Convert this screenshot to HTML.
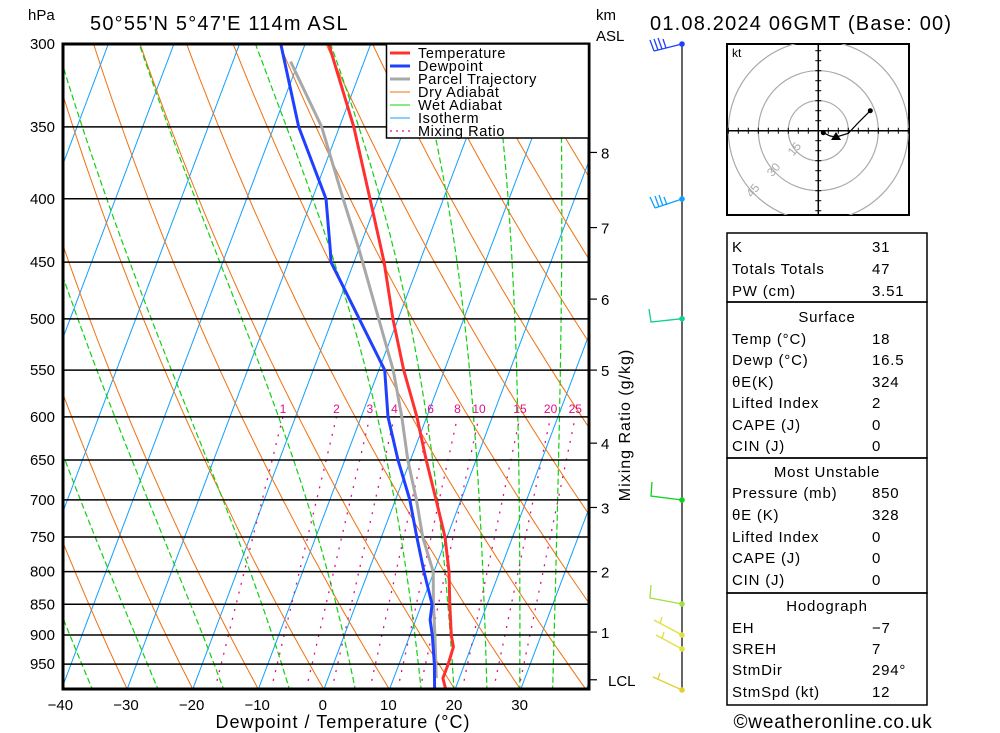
<!DOCTYPE html>
<html><head><meta charset="utf-8"><style>
html,body{margin:0;padding:0;background:#fff;}
svg{display:block;font-family:"Liberation Sans",sans-serif;}
</style></head><body>
<svg id="chart" width="1000" height="733" viewBox="0 0 1000 733" xmlns="http://www.w3.org/2000/svg">
<defs><clipPath id="plotclip"><rect x="63" y="44" width="526" height="645"/></clipPath>
<clipPath id="hodoclip"><rect x="727" y="44" width="182" height="171"/></clipPath></defs>
<g id="bg" clip-path="url(#plotclip)"></g>
<g id="isobars"></g>
<g id="series" clip-path="url(#plotclip)"></g>
<rect x="63" y="44" width="526" height="645" fill="none" stroke="#000" stroke-width="3"/>
<g id="labels"></g>
<text x="28" y="20" font-size="15">hPa</text>
<text x="90" y="30" font-size="20" letter-spacing="1.2">50°55'N  5°47'E  114m  ASL</text>
<text x="596" y="20" font-size="15">km</text>
<text x="596" y="41" font-size="15">ASL</text>
<text x="650" y="30" font-size="20" letter-spacing="1.2">01.08.2024  06GMT  (Base: 00)</text>
<text x="343" y="728" font-size="18" letter-spacing="1" text-anchor="middle">Dewpoint / Temperature (°C)</text>
<text transform="translate(630,425) rotate(-90)" font-size="16" letter-spacing="1" text-anchor="middle">Mixing Ratio (g/kg)</text>
<text x="833" y="728" font-size="19" letter-spacing="0.8" text-anchor="middle">©weatheronline.co.uk</text>
<g id="legend">
<rect x="386.5" y="44" width="202" height="94" fill="#fff" stroke="#000" stroke-width="1.5"/>
</g>
<g id="winds">
<line x1="682" y1="44" x2="682" y2="690" stroke="#000" stroke-width="1.2"/>
</g>
<g id="hodo">
<rect x="727" y="44" width="182" height="171" fill="#fff" stroke="#000" stroke-width="2"/>
<text x="732" y="57" font-size="12">kt</text>
</g>
<g id="table"></g>
</svg>
<script>
const NS="http://www.w3.org/2000/svg";
// ---- data ----
const tempP=[996,975,950,920,900,850,800,750,700,650,600,550,500,450,400,350,300];
const tempT=[18.6,17.5,17.5,17.3,16.3,14.3,12.3,9.7,6.2,2.4,-1.5,-6.2,-10.8,-15.4,-21.2,-27.8,-36.4];
const dewP=[996,950,900,875,850,800,750,700,650,600,550,450,440,400,350,300];
const dewT=[16.9,15.4,13.4,12.2,11.6,8.5,5.4,2.2,-1.9,-5.9,-9.1,-23.5,-24.3,-27.9,-36.2,-43.7];
const parcelP=[975,900,850,800,750,700,650,600,550,440,400,350,310];
const parcelT=[16.5,13.8,11.8,9.9,6.3,3.2,-0.4,-3.8,-7.8,-19.9,-25.3,-32.7,-41.2];
const isobarLevels=[300,350,400,450,500,550,600,650,700,750,800,850,900,950];
const tempTicks=[-40,-30,-20,-10,0,10,20,30];
const mixRatios=[1,2,3,4,6,8,10,15,20,25];
const mixLabels=["1","2","3","4","6","8","10","15","20","25"];
const kmLabels=["8","7","6","5","4","3","2","1","LCL"];
const kmPress=[367,422,482,550,630,710,800,895,978];
const hodoU=[2.5,5.8,8.8,15,20,26];
const hodoV=[-1,-2.6,-3.2,-1.3,4,10];
// ---- scales ----
const PB=996;
function yP(p){return 44+538*Math.log(p/300);}
function xT(T,p){return 324+6.56*T+0.3775*(689-yP(p));}
function mk(tag,attrs,parent){const e=document.createElementNS(NS,tag);for(const k in attrs)e.setAttribute(k,attrs[k]);parent.appendChild(e);return e;}
const bg=document.getElementById('bg'),series=document.getElementById('series'),labels=document.getElementById('labels');
function pathFrom(pts){return pts.map((q,i)=>(i?'L':'M')+q[0].toFixed(1)+','+q[1].toFixed(1)).join(' ');}
// isotherms
for(let T=-120;T<=40;T+=10){
  const e=mk('path',{d:pathFrom([[xT(T,PB),yP(PB)],[xT(T,290),yP(290)]]),stroke:'#10a0ff','stroke-width':1,fill:'none'},bg);
  
  
}
// dry adiabats
for(let th=183.5;th<=473.5;th+=10){
  const pts=[];for(let p=PB+5;p>=290;p-=10){pts.push([xT(th*Math.pow(p/1000,0.286)-273.15,p),yP(p)]);}
  const e=mk('path',{d:pathFrom(pts),stroke:'#f07010','stroke-width':1,fill:'none'},bg);
  
  
}
// wet adiabats
function es(Tc){return 6.112*Math.exp(17.67*Tc/(Tc+243.5));}
[-55,-45,-35,-25,-15,-5,5,15,20,25,30,35].forEach(T0=>{
  let T=T0+273.15,p=1000;const pts=[[xT(T0,p),yP(p)]];
  while(p>290){const Tc=T-273.15;const e=es(Tc);const rs=0.622*e/(p-e);
    const dTdp=(287*T+2.5e6*rs)/(p*(1004+2.5e6*2.5e6*rs*0.622/(287*T*T)));
    T+=dTdp*(-5);p-=5;pts.push([xT(T-273.15,p),yP(p)]);}
  const el=mk('path',{d:pathFrom(pts),stroke:'#10d010','stroke-width':1.2,fill:'none','stroke-dasharray':'6,3'},bg);
  
  
});
// mixing ratio
function tdFromW(w,p){const e=w*p/(622+w);const l=Math.log(e/6.112);return 243.5*l/(17.67-l);}
mixRatios.forEach((w,i)=>{
  const off=7+0.45*w;
  const el=mk('path',{d:pathFrom([[xT(tdFromW(w,PB),PB)+off*0.5,yP(PB)],[xT(tdFromW(w,600),600)+off,yP(600)]]),stroke:'#e0108a','stroke-width':1.3,fill:'none','stroke-dasharray':'2,7'},bg);
  
  
  const t=mk('text',{x:xT(tdFromW(w,600),600)+off,y:413,'font-size':12,fill:'#e0108a','text-anchor':'middle'},labels);
  t.textContent=mixLabels[i];
  
  
});
// isobars
const iso=document.getElementById('isobars');
isobarLevels.forEach(p=>{
  const l=mk('line',{x1:63,x2:589,y1:yP(p),y2:yP(p),stroke:'#000','stroke-width':1.5},iso);
  
  
  const t=mk('text',{x:55,y:yP(p)+5,'font-size':15,'text-anchor':'end'},labels);
  t.textContent=p;
  
  
});
tempTicks.forEach(T=>{
  const t=mk('text',{x:xT(T,PB)-1,y:710,'font-size':15,'text-anchor':'middle'},labels);
  t.textContent=(T<0?'\u2212':'')+Math.abs(T);
  
  
});
kmLabels.forEach((s,i)=>{
  const y=yP(kmPress[i]);
  const l=mk('line',{x1:589,x2:597,y1:y,y2:y,stroke:'#000','stroke-width':1.2},labels);
  
  
  const t=mk('text',{x:s==='LCL'?608:601,y:y+6,'font-size':15},labels);
  t.textContent=s;
  
  
});
// profiles
function prof(P,T,color,name){
  const el=mk('path',{d:pathFrom(P.map((p,i)=>[xT(T[i],p),yP(p)])),stroke:color,'stroke-width':3,fill:'none','stroke-linejoin':'round'},series);
  
  
}
prof(parcelP,parcelT,'#a8a8a8','parcel-trajectory-line');
prof(dewP,dewT,'#2040ff','dewpoint-line');
prof(tempP,tempT,'#ff3030','temperature-line');
// legend
const lg=document.getElementById('legend');
[['Temperature','#ff3030',3,''],['Dewpoint','#2040ff',3,''],['Parcel Trajectory','#a8a8a8',3,''],['Dry Adiabat','#f07010',1,''],['Wet Adiabat','#10d010',1,''],['Isotherm','#10a0ff',1,''],['Mixing Ratio','#e0108a',1.3,'2,4']].forEach((e,i)=>{
  const y=53+i*13;
  const l=mk('line',{x1:390,x2:410,y1:y,y2:y,stroke:e[1],'stroke-width':e[2]},lg);
  if(e[3])l.setAttribute('stroke-dasharray',e[3]);
  
  
  const t=mk('text',{x:418,y:y+5,'font-size':14.5,'letter-spacing':0.6},lg);
  t.textContent=e[0];
  
  
});
// wind barbs
const wg=document.getElementById('winds');
[[44,'#2040ff','M682,44 L654,51 M654,51 L650,40 M658,50 L654,39 M662,49 L658,38 M666,48 L663,39'],
 [199,'#10a0ff','M682,199 L655,208 M655,208 L650,197 M659,207 L655,196 M663,206 L659,195 M667,205 L664,197'],
 [318.7,'#10d090','M682,318.7 L651,322 L649,309'],
 [500,'#10d020','M682,500 L651,496 L652,482'],
 [604,'#a0e040','M682,604 L650,598 L651,585'],
 [635,'#e0e040','M682,635 L654,620 M660,624 L662,617'],
 [649,'#e0e040','M682,649 L656,635 M662,639 L664,632'],
 [690,'#e0d030','M682,690 L653,677 M658,679 L660,673']].forEach(b=>{
  const p=mk('path',{d:b[2],stroke:b[1],'stroke-width':1.3,fill:'none'},wg);
  
  
  const c=mk('circle',{cx:682,cy:b[0],r:2.8,fill:b[1]},wg);
  
  
});
// hodograph
const hg=document.getElementById('hodo');const cx=818.3,cy=130.7,sc=2;
const hc=mk('g',{'clip-path':'url(#hodoclip)'},hg);
[15,30,45].forEach(r=>{
  const c=mk('circle',{cx:cx,cy:cy,r:r*sc,fill:'none',stroke:'#aaa','stroke-width':1.2},hc);
  
  
  const a=Math.PI*0.75;const tx=cx+Math.cos(a)*r*sc*0.98,ty=cy+Math.sin(a)*r*sc*0.98;
  const t=mk('text',{x:tx,y:ty,'font-size':12,fill:'#aaa','text-anchor':'middle',transform:`rotate(-50 ${tx} ${ty})`},hc);
  t.textContent=r;
  
  
});
mk('line',{x1:727,x2:909,y1:cy,y2:cy,stroke:'#000','stroke-width':1.5},hc);
mk('line',{x1:cx,x2:cx,y1:44,y2:215,stroke:'#000','stroke-width':1.5},hc);
for(let k=-9;k<=9;k++){if(!k)continue;const d=k*5*sc;
  mk('line',{x1:cx+d,x2:cx+d,y1:cy-3,y2:cy+3,stroke:'#000','stroke-width':1},hc);
  mk('line',{x1:cx-3,x2:cx+3,y1:cy+d,y2:cy+d,stroke:'#000','stroke-width':1},hc);}
const hp=mk('path',{d:pathFrom(hodoU.map((u,i)=>[cx+u*sc,cy-hodoV[i]*sc])),stroke:'#000','stroke-width':1.2,fill:'none'},hg);


const hs=mk('circle',{cx:cx+hodoU[0]*sc,cy:cy-hodoV[0]*sc,r:2.5,fill:'#000'},hg);


const he=mk('circle',{cx:cx+hodoU[hodoU.length-1]*sc,cy:cy-hodoV[hodoV.length-1]*sc,r:2.5,fill:'#000'},hg);


const tri=mk('path',{d:'M836,132 L841,140 L831,140 Z',fill:'#000'},hg);


// table
const tb=document.getElementById('table');
[[233,302],[302,458],[458,593],[593,705]].forEach(r=>{
  const b=mk('rect',{x:727,y:r[0],width:200,height:r[1]-r[0],fill:'none',stroke:'#000','stroke-width':1.5},tb);
  
  
});
const rows=[[246,'K','31'],[268,'Totals Totals','47'],[290,'PW (cm)','3.51'],[316,'Surface',null],[338,'Temp (°C)','18'],[359,'Dewp (°C)','16.5'],[381,'θE(K)','324'],[402,'Lifted Index','2'],[424,'CAPE (J)','0'],[445,'CIN (J)','0'],[471,'Most Unstable',null],[492,'Pressure (mb)','850'],[514,'θE (K)','328'],[536,'Lifted Index','0'],[557,'CAPE (J)','0'],[579,'CIN (J)','0'],[605,'Hodograph',null],[627,'EH','\u22127'],[648,'SREH','7'],[669,'StmDir','294°'],[691,'StmSpd (kt)','12']];
rows.forEach(r=>{
  const t=mk('text',{x:r[2]===null?827:732,y:r[0]+6,'font-size':15,'letter-spacing':0.8,'text-anchor':r[2]===null?'middle':'start'},tb);
  t.textContent=r[1];
  
  
  if(r[2]!==null){const v=mk('text',{x:872,y:r[0]+6,'font-size':15,'letter-spacing':0.8},tb);
    v.textContent=r[2];
    
    }
});
</script>
</body></html>
